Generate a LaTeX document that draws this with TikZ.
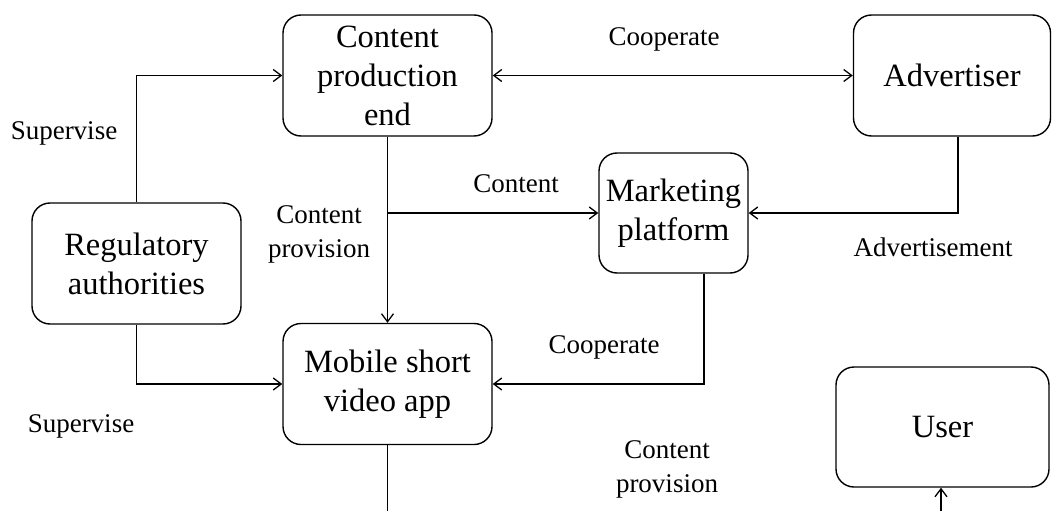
\documentclass[tikz,border=0pt]{standalone}
\usepackage{fontspec}
\setmainfont{Liberation Serif}
\usetikzlibrary{arrows.meta}

\begin{document}
\begin{tikzpicture}[x=1pt,y=-1pt,
  box/.style={draw, line width=1.4pt, rounded corners=18pt, align=center,
    inner sep=0pt, font=\fontsize{32.5}{39}\selectfont},
  lbl/.style={anchor=base, align=center, font=\fontsize{27}{33.5}\selectfont},
  conn/.style={line width=1.4pt},
  arr/.style={conn, -{Straight Barb[length=8pt,width=12pt,line width=1.3pt]}},
  arrboth/.style={conn, {Straight Barb[length=8pt,width=12pt,line width=1.3pt]}-{Straight Barb[length=8pt,width=12pt,line width=1.3pt]}}]

\useasboundingbox (0,0) rectangle (1052,511);
\fill[white] (0,0) rectangle (1052,511);

% boxes
\node[box, minimum width=209pt, minimum height=121pt] (cpe) at (387.5,75.5) {Content\\production\\end};
\node[box, minimum width=197pt, minimum height=121pt] (adv) at (952,75.5) {Advertiser};
\node[box, minimum width=149pt, minimum height=120pt] (mkt) at (673.5,213) {Marketing\\platform};
\node[box, minimum width=209pt, minimum height=121pt] (reg) at (136.5,263.5) {Regulatory\\authorities};
\node[box, minimum width=209pt, minimum height=121pt] (app) at (387.5,384) {Mobile short\\video app};
\node[box, minimum width=213pt, minimum height=120pt] (user) at (942.5,427) {User};

% lower edge where the outgoing lines leave the frame
\coordinate (bot) at (0,512);

% connectors
\draw[arr] (reg.north) |- (cpe.west);
\draw[arr] (reg.south) |- (app.west);
\draw[arr] (cpe.south) -- (app.north);
\draw[arr] (cpe.south |- mkt.west) -- (mkt.west);
\draw[arrboth] (cpe.east) -- (adv.west);
\draw[arr] ([xshift=6pt]adv.south) |- (mkt.east);
\draw[arr] ([xshift=30.5pt]mkt.south) |- (app.east);
\draw[conn] (app.south) -- (app.south |- bot);
\draw[arr] ([xshift=-1.5pt]user.south |- bot) -- ([xshift=-1.5pt]user.south);

% labels (base anchor sits on the last line of a two-line label)
\node[lbl] (l1) at (64,139) {Supervise};
\node[lbl] (l2) at (81,432) {Supervise};
\node[lbl] (l3) at (664,46) {Cooperate};
\node[lbl] (l4) at (516,192) {Content};
\node[lbl] (l5) at (319,257) {Content\\provision};
\node[lbl] (l6) at (933,256) {Advertisement};
\node[lbl] (l7) at (604,353) {Cooperate};
\node[lbl] (l8) at (667,492) {Content\\provision};
\end{tikzpicture}
\end{document}
